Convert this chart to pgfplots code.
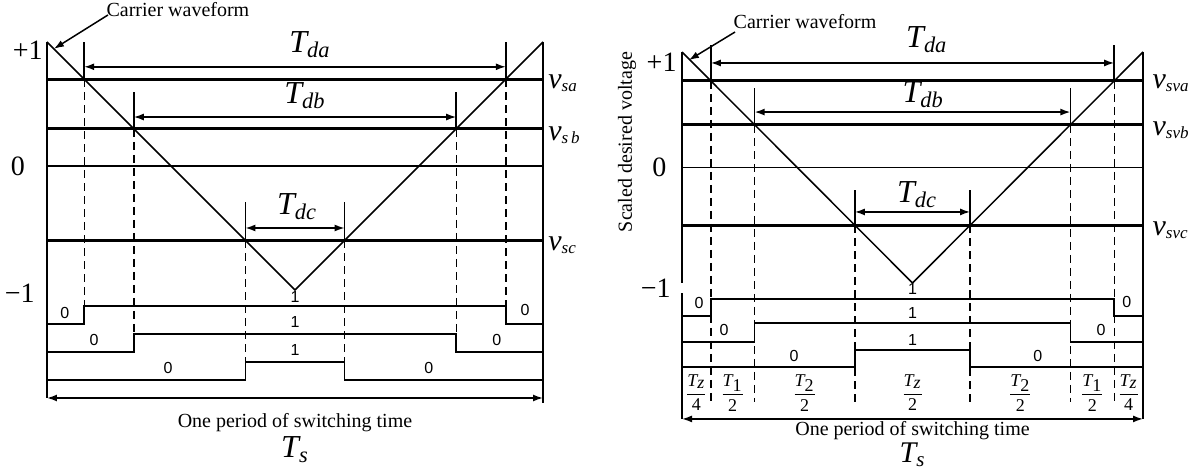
\documentclass[border=0pt]{standalone}
\usepackage{pgfplots}
\pgfplotsset{compat=1.18}
\usetikzlibrary{arrows.meta}
\usepackage{fontspec}
\setmainfont{LiberationSerif}[Extension=.ttf, UprightFont=*-Regular, ItalicFont=*-Italic, BoldFont=*-Bold, BoldItalicFont=*-BoldItalic]
\newfontfamily\sansf{Liberation Sans}
\newcommand{\bigf}{\fontsize{16}{18}\selectfont}
\newcommand{\medf}{\fontsize{14}{16}\selectfont}
\newcommand{\txtf}{\fontsize{10}{12}\selectfont}
\newcommand{\smf}{\sansf\fontsize{8}{9}\selectfont}
\newcommand{\frf}{\fontsize{9}{10}\selectfont}
\newcommand{\vlab}[1]{{\fontsize{15}{16}\selectfont\itshape v}\raisebox{-0.35ex}{\fontsize{8.5}{9}\selectfont\itshape #1}}
\pgfplotsset{
  thinl/.style={black, line width=0.75pt},
  thickl/.style={black, line width=1.5pt},
  dashl/.style={black, line width=0.7pt, dash pattern=on 4pt off 2.5pt},
  arr/.style={black, line width=0.75pt, {Latex[length=5pt,width=3.5pt]}-{Latex[length=5pt,width=3.5pt]}},
  arr1/.style={black, line width=0.75pt, -{Latex[length=5pt,width=3.5pt]}},
}
\begin{document}
\begin{tikzpicture}
\useasboundingbox (0pt,0pt) rectangle (596.5pt,238pt);
% ================= LEFT PANEL =================
\begin{axis}[at={(23.5pt,31pt)}, anchor=south west, scale only axis,
  width=248pt, height=186pt, xmin=0, xmax=1, ymin=-2, ymax=1,
  hide axis, clip=false]
\addplot[thinl] coordinates {(0,1) (0.5,-1) (1,1)};
\addplot[thinl] coordinates {(0,1) (0,-1.871)};
\addplot[thinl] coordinates {(1,1) (1,-1.91)};
\addplot[thickl] coordinates {(0,0.7) (1,0.7)};
\addplot[thickl] coordinates {(0,0.3) (1,0.3)};
\addplot[thinl] coordinates {(0,0) (1,0)};
\addplot[thickl] coordinates {(0,-0.6) (1,-0.6)};
\addplot[thinl] coordinates {(0.075,0.7) (0.075,1.0)};
\addplot[thinl] coordinates {(0.925,0.7) (0.925,1.0)};
\addplot[thinl] coordinates {(0.175,0.3) (0.175,0.6)};
\addplot[thinl] coordinates {(0.825,0.3) (0.825,0.6)};
\addplot[thinl] coordinates {(0.4,-0.6) (0.4,-0.29)};
\addplot[thinl] coordinates {(0.6,-0.6) (0.6,-0.29)};
\addplot[arr] coordinates {(0.075,0.8) (0.925,0.8)};
\addplot[arr] coordinates {(0.175,0.395) (0.825,0.395)};
\addplot[arr] coordinates {(0.4,-0.5) (0.6,-0.5)};
\addplot[dashl] coordinates {(0.075,0.7) (0.075,-1.129)};
\addplot[dashl] coordinates {(0.925,0.7) (0.925,-1.129)};
\addplot[dashl] coordinates {(0.175,0.3) (0.175,-1.355)};
\addplot[dashl] coordinates {(0.825,0.3) (0.825,-1.355)};
\addplot[dashl] coordinates {(0.4,-0.6) (0.4,-1.58)};
\addplot[dashl] coordinates {(0.6,-0.6) (0.6,-1.58)};
\addplot[thinl] coordinates {(0,-1.274) (0.075,-1.274) (0.075,-1.129) (0.925,-1.129) (0.925,-1.274) (1,-1.274)};
\addplot[thinl] coordinates {(0,-1.5) (0.175,-1.5) (0.175,-1.355) (0.825,-1.355) (0.825,-1.5) (1,-1.5)};
\addplot[thinl] coordinates {(0,-1.726) (0.4,-1.726) (0.4,-1.58) (0.6,-1.58) (0.6,-1.726) (1,-1.726)};
\addplot[arr] coordinates {(0,-1.871) (1,-1.871)};
\addplot[arr1] coordinates {(0.123,1.218) (0.014,0.945)};
\node[font=\txtf] at (axis cs:0.264,1.258) {Carrier waveform};
\node[font=\medf, anchor=east, inner sep=0pt] at (axis cs:-0.008,0.935) {+1};
\node[font=\medf, anchor=east, inner sep=0pt] at (axis cs:-0.044,0) {0};
\node[font=\medf, anchor=east, inner sep=0pt] at (axis cs:-0.024,-1.024) {−1};
\node[font=\bigf\itshape] at (axis cs:0.53,0.976) {T\textsubscript{da}};
\node[font=\bigf\itshape] at (axis cs:0.52,0.57) {T\textsubscript{db}};
\node[font=\bigf\itshape] at (axis cs:0.504,-0.33) {T\textsubscript{dc}};
\node[anchor=west, inner sep=0pt] at (axis cs:1.01,0.67) {\vlab{sa}};
\node[anchor=west, inner sep=0pt] at (axis cs:1.01,0.25) {\vlab{s\,b}};
\node[anchor=west, inner sep=0pt] at (axis cs:1.01,-0.64) {\vlab{sc}};
\node[font=\smf] at (axis cs:0.036,-1.185) {0};
\node[font=\smf] at (axis cs:0.095,-1.403) {0};
\node[font=\smf] at (axis cs:0.244,-1.629) {0};
\node[font=\smf] at (axis cs:0.964,-1.161) {0};
\node[font=\smf] at (axis cs:0.907,-1.403) {0};
\node[font=\smf] at (axis cs:0.77,-1.629) {0};
\node[font=\smf] at (axis cs:0.5,-1.056) {1};
\node[font=\smf] at (axis cs:0.5,-1.258) {1};
\node[font=\smf] at (axis cs:0.5,-1.484) {1};
\node[font=\txtf] at (axis cs:0.5,-2.07) {One period of switching time};
\node[font=\bigf\itshape] at (axis cs:0.5,-2.29) {T\textsubscript{s}};
\end{axis}
% ================= RIGHT PANEL =================
\begin{axis}[at={(341pt,38.75pt)}, anchor=south west, scale only axis,
  width=230.5pt, height=173.25pt, xmin=0, xmax=1, ymin=-2, ymax=1,
  hide axis, clip=false]
\addplot[thinl] coordinates {(0,1) (0.5,-1) (1,1)};
\addplot[thinl] coordinates {(0,1) (0,-1.0)};
\addplot[thinl] coordinates {(0,-1.09) (0,-2.177)};
\addplot[thinl] coordinates {(1,1) (1,-2.177)};
\addplot[thickl] coordinates {(0,0.75) (1,0.75)};
\addplot[thickl] coordinates {(0,0.37) (1,0.37)};
\addplot[thinl] coordinates {(0,0) (1,0)};
\addplot[thickl] coordinates {(0,-0.5) (1,-0.5)};
\addplot[thinl] coordinates {(0.0625,0.75) (0.0625,1.06)};
\addplot[thinl] coordinates {(0.9375,0.75) (0.9375,1.06)};
\addplot[thinl] coordinates {(0.1575,0.37) (0.1575,0.688)};
\addplot[thinl] coordinates {(0.8425,0.37) (0.8425,0.688)};
\addplot[thinl] coordinates {(0.375,-0.5) (0.375,-0.195)};
\addplot[thinl] coordinates {(0.625,-0.5) (0.625,-0.195)};
\addplot[arr] coordinates {(0.0625,0.905) (0.9375,0.905)};
\addplot[arr] coordinates {(0.1575,0.48) (0.8425,0.48)};
\addplot[arr] coordinates {(0.375,-0.385) (0.625,-0.385)};
\addplot[dashl] coordinates {(0.0625,0.75) (0.0625,-2.03)};
\addplot[dashl] coordinates {(0.9375,0.75) (0.9375,-2.03)};
\addplot[dashl] coordinates {(0.1575,0.37) (0.1575,-2.03)};
\addplot[dashl] coordinates {(0.8425,0.37) (0.8425,-2.03)};
\addplot[dashl] coordinates {(0.375,-0.5) (0.375,-2.03)};
\addplot[dashl] coordinates {(0.625,-0.5) (0.625,-2.03)};
\addplot[thinl] coordinates {(0,-1.286) (0.0625,-1.286) (0.0625,-1.139) (0.9375,-1.139) (0.9375,-1.286) (1,-1.286)};
\addplot[thinl] coordinates {(0,-1.51) (0.1575,-1.51) (0.1575,-1.346) (0.8425,-1.346) (0.8425,-1.51) (1,-1.51)};
\addplot[thinl] coordinates {(0,-1.727) (0.375,-1.727) (0.375,-1.58) (0.625,-1.58) (0.625,-1.727) (1,-1.727)};
\addplot[arr] coordinates {(0,-2.177) (1,-2.177)};
\addplot[arr1] coordinates {(0.115,1.173) (0.015,0.93)};
\node[font=\txtf] at (axis cs:0.267,1.26) {Carrier waveform};
\node[font=\txtf, rotate=90] at (axis cs:-0.119,0.22) {Scaled desired voltage};
\node[font=\medf, anchor=east, inner sep=0pt] at (axis cs:-0.011,0.913) {+1};
\node[font=\medf, anchor=east, inner sep=0pt] at (axis cs:-0.033,0) {0};
\node[font=\medf, anchor=east, inner sep=0pt] at (axis cs:-0.024,-1.043) {−1};
\node[font=\bigf\itshape] at (axis cs:0.531,1.104) {T\textsubscript{da}};
\node[font=\bigf\itshape] at (axis cs:0.523,0.628) {T\textsubscript{db}};
\node[font=\bigf\itshape] at (axis cs:0.51,-0.238) {T\textsubscript{dc}};
\node[anchor=west, inner sep=0pt] at (axis cs:1.02,0.73) {\vlab{sva}};
\node[anchor=west, inner sep=0pt] at (axis cs:1.02,0.325) {\vlab{svb}};
\node[anchor=west, inner sep=0pt] at (axis cs:1.02,-0.54) {\vlab{svc}};
\node[font=\smf] at (axis cs:0.037,-1.173) {0};
\node[font=\smf] at (axis cs:0.091,-1.407) {0};
\node[font=\smf] at (axis cs:0.243,-1.632) {0};
\node[font=\smf] at (axis cs:0.965,-1.165) {0};
\node[font=\smf] at (axis cs:0.909,-1.407) {0};
\node[font=\smf] at (axis cs:0.772,-1.632) {0};
\node[font=\smf] at (axis cs:0.5,-1.052) {1};
\node[font=\smf] at (axis cs:0.5,-1.26) {1};
\node[font=\smf] at (axis cs:0.5,-1.494) {1};
\node[font=\frf] at (axis cs:0.031,-1.952) {$\displaystyle\frac{\textit{T}_{\textit{z}}}{\mbox{4}}$};
\node[font=\frf] at (axis cs:0.11,-1.952) {$\displaystyle\frac{\textit{T}_{\mbox{1}}}{\mbox{2}}$};
\node[font=\frf] at (axis cs:0.266,-1.952) {$\displaystyle\frac{\textit{T}_{\mbox{2}}}{\mbox{2}}$};
\node[font=\frf] at (axis cs:0.5,-1.952) {$\displaystyle\frac{\textit{T}_{\textit{z}}}{\mbox{2}}$};
\node[font=\frf] at (axis cs:0.734,-1.952) {$\displaystyle\frac{\textit{T}_{\mbox{2}}}{\mbox{2}}$};
\node[font=\frf] at (axis cs:0.89,-1.952) {$\displaystyle\frac{\textit{T}_{\mbox{1}}}{\mbox{2}}$};
\node[font=\frf] at (axis cs:0.969,-1.952) {$\displaystyle\frac{\textit{T}_{\textit{z}}}{\mbox{4}}$};
\node[font=\txtf] at (axis cs:0.5,-2.28) {One period of switching time};
\node[font=\fontsize{15}{16}\selectfont\itshape] at (axis cs:0.5,-2.49) {T\textsubscript{s}};
\end{axis}
\end{tikzpicture}
\end{document}
